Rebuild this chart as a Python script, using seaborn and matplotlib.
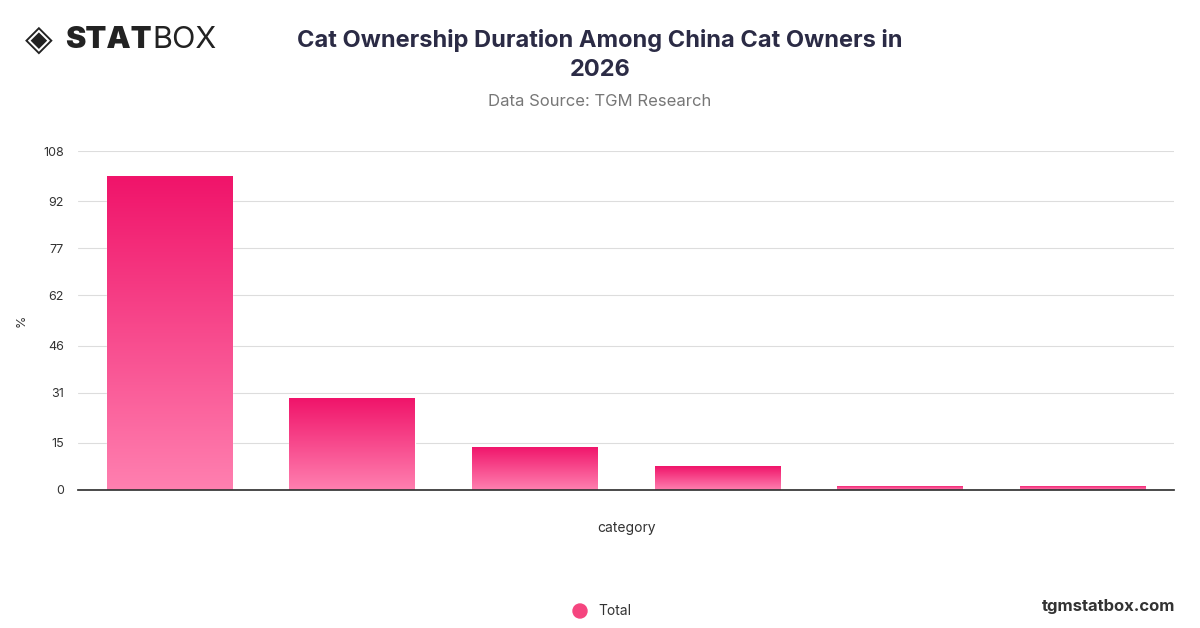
import matplotlib
matplotlib.use("Agg")
import matplotlib.pyplot as plt
import seaborn as sns
import numpy as np
import pandas as pd
from matplotlib.colors import LinearSegmentedColormap
from matplotlib.patches import Ellipse

categories = ["A", "B", "C", "D", "E", "F"]
values = [100, 29.3, 13.7, 7.6, 1.4, 1.4]
yticks = [0, 15, 31, 46, 62, 77, 92, 108]

sns.set_theme(style="white")
plt.rcParams['font.family'] = ['Inter', 'DejaVu Sans']

fig = plt.figure(figsize=(12, 6.28), dpi=100)
ax = fig.add_axes([78/1200, 1-490/628, (1174-78)/1200, (490-151)/628])
df = pd.DataFrame({"category": categories, "value": values})
sns.barplot(data=df, x="category", y="value", color="#f0146a", width=0.685, ax=ax)

cmap = LinearSegmentedColormap.from_list("g", ["#ff80b0", "#f0146a"])
grad = np.linspace(0, 1, 256).reshape(-1, 1)
for p in list(ax.patches):
    x0, y0, w, h = p.get_x(), p.get_y(), p.get_width(), p.get_height()
    im = ax.imshow(grad, extent=[x0, x0+w, y0, y0+h], origin="lower", cmap=cmap,
                   aspect="auto", zorder=p.get_zorder()+0.1)
    im.set_clip_path(p)
    p.set_facecolor("none")

ax.set_xlim(-0.5, 5.5)
ax.set_ylim(0, 108)
ax.set_yticks(yticks)
ax.set_yticklabels([str(t) for t in yticks], fontsize=9, color="#333333")
ax.tick_params(axis="y", pad=4)
ax.set_xticks([])
ax.grid(axis="y", color="#dddddd", linewidth=0.8)
ax.set_axisbelow(True)
for s in ["top", "right", "left"]:
    ax.spines[s].set_visible(False)
ax.spines["bottom"].set_color("#333333")
ax.set_ylabel("%", fontsize=9, color="#333333")
ax.yaxis.set_label_coords(-0.046, 0.5)
ax.set_xlabel("category", fontsize=10, color="#333333", labelpad=22)

fig.text(0.5, 1-40/628, "Cat Ownership Duration Among China Cat Owners in", ha="center", va="center",
         fontsize=17, fontweight="bold", color="#2b2b45")
fig.text(0.5, 1-70/628, "2026", ha="center", va="center", fontsize=17, fontweight="bold", color="#2b2b45")
fig.text(0.5, 1-101/628, "Data Source: TGM Research", ha="center", va="center", fontsize=12, color="#777777")
fig.text(25/1200, 1-40/628, "◈", ha="left", va="center", fontsize=26, color="#222222", family=["DejaVu Sans"])
fig.text(65/1200, 1-40/628, "STAT", ha="left", va="center", fontsize=22, fontweight="black", color="#222222")
fig.text(152/1200, 1-40/628, "BOX", ha="left", va="center", fontsize=22, color="#222222")
fig.text(1175/1200, 1-606/628, "tgmstatbox.com", ha="right", va="center", fontsize=12, fontweight="bold", color="#333333")
fig.patches.append(Ellipse((580/1200, 1-611/628), 14/1200, 14/628, color="#f5457f",
                           transform=fig.transFigure, figure=fig))
fig.text(598/1200, 1-611/628, "Total", ha="left", va="center", fontsize=10, color="#333333")

fig.savefig("out.png", dpi=100)
